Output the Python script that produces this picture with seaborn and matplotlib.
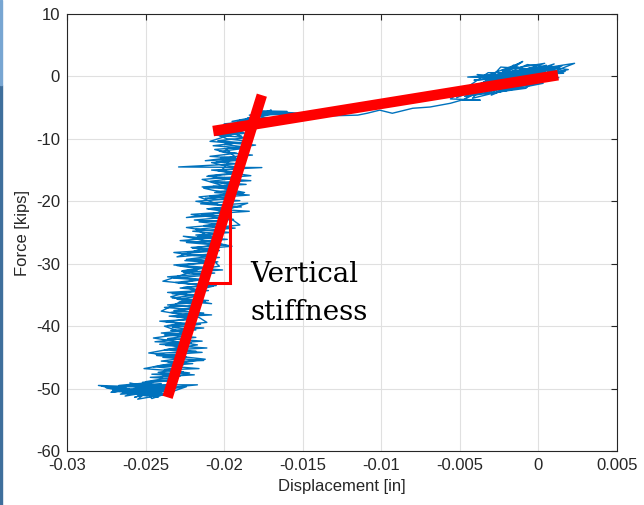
import matplotlib
matplotlib.use("Agg")
import matplotlib.pyplot as plt
from matplotlib.patches import Rectangle
import seaborn as sns
import pandas as pd

# --- measured trace: displacement [in] vs force [kips] ---
# cluster around zero load
blob_x = [0.0012, -0.0031, 0.0005, -0.0040, 0.0009, -0.0022, 0.0014, -0.0036, -0.0002, -0.0043,
          0.0003, -0.0027, 0.0010, -0.0018, -0.0045, -0.0006, 0.0016, -0.0033, -0.0011, -0.0047,
          -0.0008, 0.0006, -0.0025, 0.0013, -0.0015, -0.0050, -0.0004, -0.0038, 0.0008, -0.0021,
          0.0001, -0.0041, 0.0011, -0.0013, -0.0048, -0.0029, -0.0007, 0.0019, -0.0034, -0.0001,
          -0.0023, 0.0004, -0.0044, -0.0009, 0.0015, -0.0030, -0.0016, 0.0007, -0.0039, -0.0012,
          0.0023, -0.0026, -0.0003, -0.0046, 0.0002, -0.0019, 0.0012, -0.0035, -0.0010, -0.0052,
          -0.0014, 0.0009, -0.0028, 0.0017, -0.0024, -0.0042, -0.0005, 0.0003, -0.0032, -0.0056]
blob_y = [0.9, -1.0, 1.8, -2.9, -0.4, 0.6, 1.3, -0.2, 1.5, -2.2,
          -1.1, -2.6, 2.0, -0.3, -0.1, 0.7, 0.5, 0.1, 2.2, -3.2,
          -1.9, 1.2, -0.9, -0.2, 1.4, -2.7, -0.5, -1.4, 1.6, -2.3,
          0.3, -0.6, 0.4, 0.9, -3.8, -0.4, 1.9, 1.1, -2.0, -0.8,
          1.0, 2.1, -1.7, 0.2, 1.7, -3.0, 1.8, -0.6, 0.3, -1.4,
          2.1, 0.2, 0.9, -2.5, 1.6, -1.6, 0.1, -0.9, 2.4, -3.4,
          0.5, 1.4, -1.9, 0.8, 1.5, -3.5, -1.2, 0.6, 0.6, -3.6]

# gap-closing (soft) branch
soft_x = [-0.0037, -0.0049, -0.0056, -0.0069, -0.0080, -0.0093, -0.0101, -0.0109, -0.0115, -0.0130,
          -0.0143, -0.0152, -0.0164, -0.0174, -0.0152, -0.0180, -0.0170, -0.0186, -0.0176, -0.0192]
soft_y = [-3.8, -3.8, -4.3, -4.9, -5.1, -5.9, -5.4, -5.9, -6.2, -6.3,
          -5.9, -5.9, -5.7, -5.8, -6.0, -6.2, -5.4, -6.8, -6.0, -7.4]

# contact (stiff) branch, loading
load_x = [-0.0200, -0.0184, -0.0203, -0.0188, -0.0206, -0.0185, -0.0204, -0.0190, -0.0207, -0.0186,
          -0.0203, -0.0192, -0.0209, -0.0187, -0.0205, -0.0191, -0.0229, -0.0176, -0.0208, -0.0189,
          -0.0211, -0.0192, -0.0209, -0.0186, -0.0214, -0.0193, -0.0206, -0.0184, -0.0212, -0.0190,
          -0.0215, -0.0195, -0.0210, -0.0184, -0.0214, -0.0196, -0.0219, -0.0199, -0.0213, -0.0193,
          -0.0220, -0.0202, -0.0217, -0.0198, -0.0224, -0.0205, -0.0220, -0.0203, -0.0227, -0.0208,
          -0.0224, -0.0204, -0.0232, -0.0211, -0.0226, -0.0206, -0.0236, -0.0214, -0.0231, -0.0212,
          -0.0228, -0.0210, -0.0233, -0.0216, -0.0230, -0.0212, -0.0236, -0.0218, -0.0232, -0.0213,
          -0.0235, -0.0220, -0.0237, -0.0215, -0.0233, -0.0218, -0.0240, -0.0221, -0.0236, -0.0214,
          -0.0241, -0.0223, -0.0238, -0.0214, -0.0243, -0.0225, -0.0240, -0.0220, -0.0245, -0.0228,
          -0.0242, -0.0219, -0.0247, -0.0230]
load_y = [-7.6, -8.0, -8.5, -8.9, -9.4, -9.8, -10.3, -10.6, -11.1, -11.5,
          -12.0, -12.3, -12.8, -13.2, -13.7, -14.0, -14.5, -14.6, -15.0, -15.5,
          -16.0, -16.3, -16.8, -17.3, -17.7, -18.1, -18.6, -19.0, -19.5, -19.9,
          -20.4, -20.8, -21.2, -21.6, -22.1, -22.5, -23.0, -23.4, -23.9, -24.3,
          -24.8, -25.2, -25.7, -26.1, -26.6, -27.0, -27.5, -27.9, -28.4, -28.8,
          -29.3, -29.7, -30.2, -30.6, -31.1, -31.5, -32.1, -32.5, -33.0, -33.4,
          -33.9, -34.3, -34.8, -35.2, -35.7, -36.1, -36.6, -37.0, -37.5, -37.9,
          -38.4, -38.8, -39.3, -39.7, -40.2, -40.6, -41.1, -41.5, -42.0, -42.4,
          -42.9, -43.3, -43.8, -44.2, -44.7, -45.1, -45.6, -46.0, -46.5, -46.9,
          -47.4, -47.8, -48.2, -48.5]

# plateau at peak load
peak_x = [-0.0252, -0.0236, -0.0262, -0.0217, -0.0255, -0.0240, -0.0270, -0.0245, -0.0280, -0.0258,
          -0.0238, -0.0266, -0.0248, -0.0275, -0.0242, -0.0258, -0.0232, -0.0263, -0.0250, -0.0272,
          -0.0244, -0.0255, -0.0237, -0.0268, -0.0252, -0.0278, -0.0247, -0.0260, -0.0240, -0.0257,
          -0.0234, -0.0265, -0.0249, -0.0271, -0.0243, -0.0261, -0.0236, -0.0254, -0.0246, -0.0224,
          -0.0259, -0.0241, -0.0267, -0.0233, -0.0250]
peak_y = [-49.0, -49.8, -49.4, -49.4, -50.3, -49.2, -49.8, -50.8, -49.5, -49.7,
          -50.5, -50.9, -49.3, -49.9, -51.4, -50.2, -49.9, -51.2, -50.0, -50.6,
          -49.6, -51.7, -50.9, -50.1, -51.0, -49.6, -50.4, -49.1, -50.1, -51.4,
          -49.5, -49.7, -51.2, -50.3, -50.7, -50.6, -51.1, -49.4, -51.6, -49.7,
          -50.9, -49.9, -49.5, -48.7, -48.9]

# contact branch, unloading
unload_x = [-0.0228, -0.0246, -0.0222, -0.0238, -0.0216, -0.0241, -0.0226, -0.0236, -0.0213, -0.0239,
            -0.0224, -0.0244, -0.0218, -0.0232, -0.0211, -0.0237, -0.0221, -0.0244, -0.0226, -0.0218,
            -0.0238, -0.0222, -0.0234, -0.0213, -0.0236, -0.0227, -0.0241, -0.0219, -0.0230, -0.0208,
            -0.0234, -0.0222, -0.0238, -0.0215, -0.0229, -0.0210, -0.0233, -0.0218, -0.0236, -0.0214,
            -0.0226, -0.0205, -0.0229, -0.0215, -0.0232, -0.0209, -0.0226, -0.0201, -0.0222, -0.0230,
            -0.0209, -0.0225, -0.0203, -0.0219, -0.0232, -0.0206, -0.0221, -0.0199, -0.0217, -0.0228,
            -0.0203, -0.0218, -0.0196, -0.0214, -0.0224, -0.0201, -0.0216, -0.0194, -0.0212, -0.0221,
            -0.0198, -0.0211, -0.0189, -0.0208, -0.0218, -0.0195, -0.0209, -0.0188, -0.0206, -0.0213,
            -0.0191, -0.0205, -0.0183, -0.0203, -0.0210, -0.0190, -0.0204, -0.0186, -0.0201, -0.0208,
            -0.0189, -0.0202, -0.0182, -0.0199, -0.0206, -0.0187, -0.0200, -0.0184, -0.0198, -0.0203,
            -0.0186, -0.0197, -0.0181, -0.0194, -0.0178, -0.0190, -0.0172, -0.0184, -0.0168, -0.0180,
            -0.0160]
unload_y = [-48.0, -47.7, -47.5, -47.0, -46.8, -46.3, -46.2, -45.7, -45.5, -45.0,
            -44.9, -44.4, -44.0, -43.8, -43.5, -43.1, -42.7, -42.5, -42.0, -41.8,
            -41.4, -41.0, -40.7, -40.3, -39.9, -39.6, -39.2, -38.9, -38.5, -38.2,
            -37.8, -37.3, -37.0, -36.6, -36.2, -35.9, -35.5, -35.0, -34.6, -34.3,
            -33.8, -33.5, -33.1, -32.6, -32.3, -31.8, -31.4, -31.0, -30.6, -30.3,
            -29.8, -29.5, -29.0, -28.7, -28.2, -27.8, -27.4, -27.0, -26.5, -26.3,
            -25.8, -25.4, -25.0, -24.6, -24.2, -23.7, -23.3, -22.9, -22.4, -22.1,
            -21.7, -21.2, -20.9, -20.4, -20.0, -19.6, -19.2, -18.8, -18.3, -17.9,
            -17.5, -17.0, -16.7, -16.3, -15.9, -15.4, -15.1, -14.7, -14.2, -13.8,
            -13.4, -13.0, -12.6, -12.2, -11.7, -11.3, -10.9, -10.4, -10.0, -9.5,
            -9.1, -8.7, -8.3, -7.9, -7.4, -7.0, -6.6, -6.2, -5.8, -5.5,
            -5.6]

# contact branch, reloading
reload_x = [-0.0178, -0.0195, -0.0183, -0.0201, -0.0189, -0.0194, -0.0209, -0.0180, -0.0199, -0.0193,
            -0.0212, -0.0196, -0.0202, -0.0183, -0.0214, -0.0197, -0.0207, -0.0187, -0.0216, -0.0203,
            -0.0185, -0.0205, -0.0224, -0.0199, -0.0190, -0.0218, -0.0207, -0.0226, -0.0195, -0.0214,
            -0.0230, -0.0211, -0.0203, -0.0227, -0.0217, -0.0239, -0.0207, -0.0222, -0.0234, -0.0208,
            -0.0227, -0.0240, -0.0216, -0.0211, -0.0238, -0.0225, -0.0245, -0.0217, -0.0233, -0.0248,
            -0.0212, -0.0236, -0.0251, -0.0226, -0.0240]
reload_y = [-6.4, -7.2, -7.0, -8.1, -9.6, -9.2, -10.4, -11.0, -11.6, -12.9,
            -13.5, -13.3, -15.2, -15.9, -16.5, -17.8, -17.6, -18.6, -19.3, -20.6,
            -20.3, -21.9, -22.6, -22.2, -23.8, -24.5, -26.0, -25.6, -27.2, -27.6,
            -28.9, -28.5, -30.4, -31.2, -31.0, -32.8, -33.6, -34.5, -35.3, -36.4,
            -36.0, -37.6, -38.6, -39.4, -40.0, -41.2, -41.9, -43.0, -43.6, -44.3,
            -45.3, -46.1, -46.8, -47.3, -48.1]

# fitted stiffness lines and slope marker
fit_soft_x = [-0.0207, 0.00125]
fit_soft_y = [-8.75, 0.2]
fit_stiff_x = [-0.0236, -0.0176]
fit_stiff_y = [-51.4, -3.0]
slope_x = [-0.0196, -0.0196, -0.0213]
slope_y = [-20.0, -33.1, -33.1]

x_ticks = [-0.03, -0.025, -0.02, -0.015, -0.01, -0.005, 0.0, 0.005]
x_tick_labels = ["-0.03", "-0.025", "-0.02", "-0.015", "-0.01", "-0.005", "0", "0.005"]
y_ticks = [-60, -50, -40, -30, -20, -10, 0, 10]
y_tick_labels = ["-60", "-50", "-40", "-30", "-20", "-10", "0", "10"]

sns.set_theme(style="whitegrid")
plt.rcParams["font.family"] = ["Liberation Sans", "DejaVu Sans"]

trace = pd.DataFrame({
    "Displacement [in]": blob_x + soft_x + load_x + peak_x + unload_x + reload_x,
    "Force [kips]": blob_y + soft_y + load_y + peak_y + unload_y + reload_y,
})

fig = plt.figure(figsize=(6.44, 5.05), dpi=100)
fig.patch.set_facecolor("white")
ax = fig.add_axes([67 / 644, 1 - 451 / 505, 550 / 644, 437 / 505])
ax.set_facecolor("white")

sns.lineplot(data=trace, x="Displacement [in]", y="Force [kips]", sort=False,
             estimator=None, color="#0072BD", lw=1.0, ax=ax)

ax.plot(fit_soft_x, fit_soft_y, color="#FF0000", lw=7.6, solid_capstyle="butt", zorder=4)
ax.plot(fit_stiff_x, fit_stiff_y, color="#FF0000", lw=7.6, solid_capstyle="butt", zorder=4)
ax.plot(slope_x, slope_y, color="#FF0000", lw=2.2, solid_joinstyle="miter", zorder=3)

serif = ["DejaVu Serif", "Liberation Serif"]
ax.text(-0.01835, -32.9, "Vertical", family=serif, fontsize=20, color="black",
        va="baseline", ha="left")
ax.text(-0.01835, -39.0, "stiffness", family=serif, fontsize=20, color="black",
        va="baseline", ha="left")

ax.set_xlim(-0.03, 0.005)
ax.set_ylim(-60, 10)
ax.set_xticks(x_ticks)
ax.set_xticklabels(x_tick_labels)
ax.set_yticks(y_ticks)
ax.set_yticklabels(y_tick_labels)
ax.set_xlabel("Displacement [in]", fontsize=12, color="#262626", labelpad=4)
ax.set_ylabel("Force [kips]", fontsize=12, color="#262626", labelpad=4)

ax.grid(True, color="#e0e0e0", lw=0.8)
ax.set_axisbelow(True)
for side in ["left", "right", "top", "bottom"]:
    ax.spines[side].set_visible(True)
    ax.spines[side].set_color("#262626")
    ax.spines[side].set_linewidth(0.8)
ax.tick_params(direction="in", length=4.5, width=0.8, top=True, right=True,
               colors="#262626", labelsize=12, pad=5)

# window frame edge on the left
fig.patches.append(Rectangle((0, 0), 2 / 644, 420 / 505, transform=fig.transFigure,
                             color="#3f6f9c", zorder=10))
fig.patches.append(Rectangle((0, 420 / 505), 2 / 644, 85 / 505, transform=fig.transFigure,
                             color="#78a6d2", zorder=10))

fig.savefig("out.png", dpi=100)
